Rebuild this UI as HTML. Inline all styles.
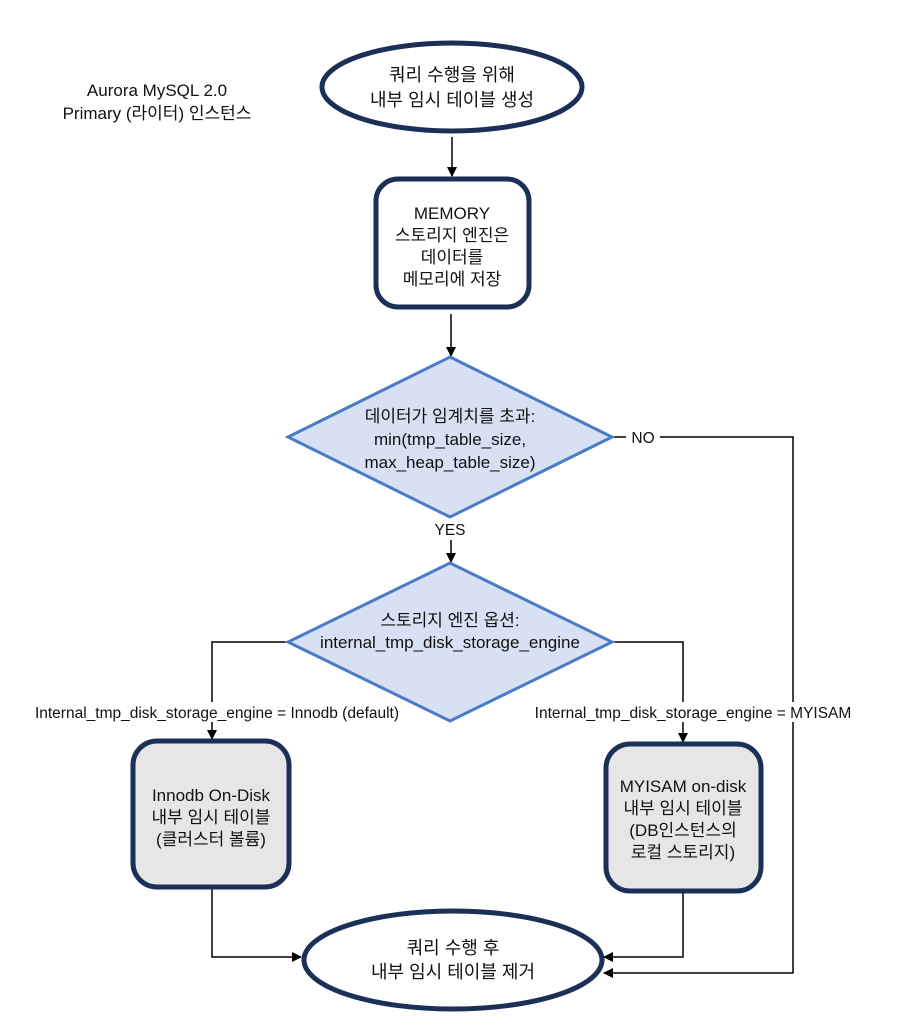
<!DOCTYPE html>
<html><head><meta charset="utf-8"><style>
body{margin:0;background:#fff}
svg text{font-family:"Liberation Sans","Noto Sans CJK KR",sans-serif;fill:#111}
</style></head><body>
<svg width="901" height="1024" viewBox="0 0 901 1024" xmlns="http://www.w3.org/2000/svg">
<defs><marker id="a" markerWidth="10" markerHeight="10" refX="9" refY="5" orient="auto" markerUnits="userSpaceOnUse"><path d="M0,0 L10,5 L0,10 z" fill="#000"/></marker></defs>
<text x="157" y="96" font-size="17" text-anchor="middle">Aurora MySQL 2.0</text>
<text x="157" y="119" font-size="17" text-anchor="middle">Primary (라이터) 인스턴스</text>

<ellipse cx="452" cy="87" rx="130" ry="44" fill="#fff" stroke="#1b2f57" stroke-width="5"/>
<text x="452" y="81" font-size="18" text-anchor="middle">쿼리 수행을 위해</text>
<text x="452" y="106" font-size="18" text-anchor="middle">내부 임시 테이블 생성</text>

<g stroke="#000" stroke-width="1.5" fill="none">
<line x1="452" y1="137" x2="452" y2="176" marker-end="url(#a)"/>
<line x1="451" y1="314" x2="451" y2="356" marker-end="url(#a)"/>
<line x1="451" y1="540" x2="451" y2="562" marker-end="url(#a)"/>
<polyline points="612,437 793,437 793,973 604,973" marker-end="url(#a)"/>
<polyline points="288,642 212,642 212,739" marker-end="url(#a)"/>
<polyline points="612,642 683,642 683,742" marker-end="url(#a)"/>
<polyline points="212,888 212,957 301,957" marker-end="url(#a)"/>
<polyline points="683,892 683,957 604,957" marker-end="url(#a)"/>
</g>
<rect x="626" y="428" width="34" height="18" fill="#fff"/>
<text x="643" y="443" font-size="15.5" text-anchor="middle">NO</text>
<text x="450" y="535" font-size="15.5" text-anchor="middle">YES</text>

<rect x="376" y="179" width="153" height="128" rx="22" fill="#fff" stroke="#1b2f57" stroke-width="5"/>
<text x="452" y="219" font-size="17" text-anchor="middle">MEMORY</text>
<text x="452" y="241" font-size="17" text-anchor="middle">스토리지 엔진은</text>
<text x="452" y="263" font-size="17" text-anchor="middle">데이터를</text>
<text x="452" y="285" font-size="17" text-anchor="middle">메모리에 저장</text>

<polygon points="450,357 612,437 450,517 288,437" fill="#d7e1f3" stroke="#4a7bc8" stroke-width="3"/>
<text x="450" y="422" font-size="17" text-anchor="middle">데이터가 임계치를 초과:</text>
<text x="450" y="445" font-size="17" text-anchor="middle">min(tmp_table_size,</text>
<text x="450" y="468" font-size="17" text-anchor="middle">max_heap_table_size)</text>

<polygon points="450,563 612,642 450,721 288,642" fill="#d7e1f3" stroke="#4a7bc8" stroke-width="3"/>
<text x="450" y="626" font-size="17" text-anchor="middle">스토리지 엔진 옵션:</text>
<text x="450" y="648" font-size="17" text-anchor="middle">internal_tmp_disk_storage_engine</text>

<rect x="26" y="702" width="382" height="20" fill="#fff"/>
<text x="217" y="718" font-size="15.5" text-anchor="middle">Internal_tmp_disk_storage_engine = Innodb (default)</text>
<rect x="528" y="702" width="336" height="20" fill="#fff"/>
<text x="693" y="718" font-size="15.5" text-anchor="middle">Internal_tmp_disk_storage_engine  = MYISAM</text>

<rect x="133" y="741" width="156" height="146" rx="24" fill="#e6e6e6" stroke="#1b2f57" stroke-width="5"/>
<text x="211" y="801" font-size="17" text-anchor="middle">Innodb On-Disk</text>
<text x="211" y="823" font-size="17" text-anchor="middle">내부 임시 테이블</text>
<text x="211" y="845" font-size="17" text-anchor="middle">(클러스터 볼륨)</text>

<rect x="606" y="744" width="155" height="147" rx="24" fill="#e6e6e6" stroke="#1b2f57" stroke-width="5"/>
<text x="683" y="792" font-size="17" text-anchor="middle">MYISAM on-disk</text>
<text x="683" y="814" font-size="17" text-anchor="middle">내부 임시 테이블</text>
<text x="683" y="836" font-size="17" text-anchor="middle">(DB인스턴스의</text>
<text x="683" y="858" font-size="17" text-anchor="middle">로컬 스토리지)</text>

<ellipse cx="453" cy="960" rx="149" ry="49" fill="#fff" stroke="#1b2f57" stroke-width="5"/>
<text x="453" y="954" font-size="18" text-anchor="middle">쿼리 수행 후</text>
<text x="453" y="978" font-size="18" text-anchor="middle">내부 임시 테이블 제거</text>
</svg>
</body></html>
